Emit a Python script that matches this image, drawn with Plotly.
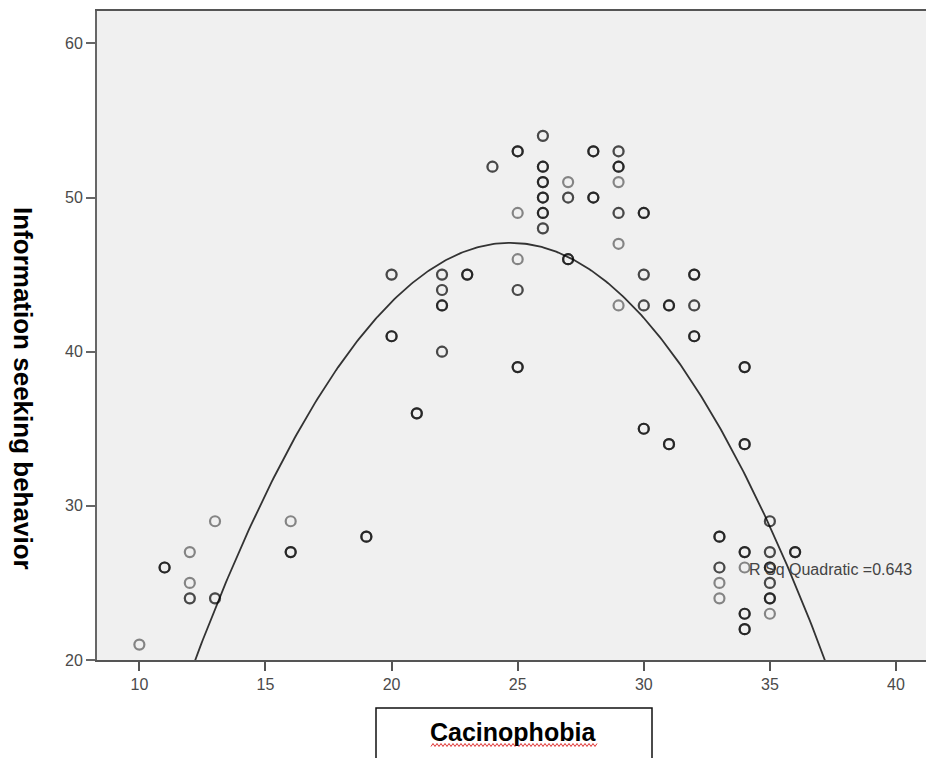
import numpy as np
import plotly.graph_objects as go

# ---- data (unique points and number of overlapping cases) ----
cacinophobia = [10, 11, 12, 12, 12, 13, 13, 16, 16, 19,
                20, 20, 21, 22, 22, 22, 22, 23, 24,
                25, 25, 25, 25, 25, 26, 26, 26, 26, 26, 26,
                27, 27, 27, 28, 28, 29, 29, 29, 29, 29, 29,
                30, 30, 30, 30, 31, 31, 32, 32, 32,
                33, 33, 33, 33, 34, 34, 34, 34, 34, 34,
                35, 35, 35, 35, 35, 35, 36]
info_seeking = [21, 26, 27, 25, 24, 29, 24, 29, 27, 28,
                45, 41, 36, 45, 44, 43, 40, 45, 52,
                53, 49, 46, 44, 39, 54, 52, 51, 50, 49, 48,
                51, 50, 46, 53, 50, 53, 52, 51, 49, 47, 43,
                49, 45, 43, 35, 43, 34, 45, 43, 41,
                28, 26, 25, 24, 39, 34, 27, 26, 23, 22,
                29, 27, 26, 25, 24, 23, 27]
n_cases = [1, 3, 1, 1, 2, 1, 2, 1, 3, 3,
           2, 3, 3, 2, 2, 3, 2, 3, 2,
           3, 1, 1, 2, 3, 2, 3, 3, 3, 3, 2,
           1, 2, 3, 3, 3, 2, 3, 1, 2, 1, 1,
           3, 2, 2, 3, 3, 3, 3, 2, 3,
           3, 2, 1, 1, 3, 3, 3, 1, 3, 3,
           2, 2, 3, 2, 3, 1, 3]

# quadratic fit: y = b0 + b1*x + b2*x^2
quad_coef = [-58.79, 8.571, -0.1735]
r_sq_label = "R Sq Quadratic =0.643"

x_ticks = [10, 15, 20, 25, 30, 35, 40]
y_ticks = [20, 30, 40, 50, 60]
x_range = [8.32, 41.19]
y_range = [20, 62.1]

xs = np.repeat(cacinophobia, n_cases)
ys = np.repeat(info_seeking, n_cases)

curve_x = np.linspace(x_range[0], x_range[1], 400)
curve_y = quad_coef[0] + quad_coef[1] * curve_x + quad_coef[2] * curve_x ** 2

fig = go.Figure()
fig.add_trace(go.Scatter(
    x=curve_x, y=curve_y, mode="lines",
    line=dict(color="#333333", width=1.8),
    hoverinfo="skip", showlegend=False))
fig.add_trace(go.Scatter(
    x=xs, y=ys, mode="markers",
    marker=dict(symbol="circle-open", size=10,
                color="rgba(0,0,0,0.45)", line=dict(width=2.2)),
    showlegend=False))

axis_font = dict(family="Liberation Sans, Arial, sans-serif", size=16, color="#4a4a4a")

fig.update_xaxes(range=x_range, tickvals=x_ticks, showgrid=False, zeroline=False,
                 showline=True, linecolor="#555555", linewidth=2, mirror=True,
                 ticks="outside", ticklen=9, tickwidth=2, tickcolor="#555555",
                 tickfont=axis_font)
fig.update_yaxes(range=y_range, tickvals=y_ticks, showgrid=False, zeroline=False,
                 showline=True, linecolor="#666666", linewidth=2,
                 ticks="outside", ticklen=9, tickwidth=2, tickcolor="#666666",
                 tickfont=axis_font)

L, R, T, B = 97, 0, 11, 98
W, H = 926, 758
pw, ph = W - L - R, H - T - B

def px2paper(px, py):
    return (px - L) / pw, (H - B - py) / ph

annotations = []
annotations.append(dict(x=34.1, y=25.9, xref="x", yref="y", text=r_sq_label,
                        showarrow=False, xanchor="left", yanchor="middle",
                        font=dict(family="Liberation Sans, Arial, sans-serif", size=16, color="#444444")))
ax, ay = px2paper(23, 388)
annotations.append(dict(x=ax, y=ay, xref="paper", yref="paper",
                        text="<b>Information seeking behavior</b>", textangle=90,
                        showarrow=False, xanchor="center", yanchor="middle",
                        font=dict(family="Liberation Sans, Arial, sans-serif", size=26, color="#000000")))
tx, ty = px2paper(513, 732)
annotations.append(dict(x=tx, y=ty, xref="paper", yref="paper",
                        text="<b>Cacinophobia</b>",
                        showarrow=False, xanchor="center", yanchor="middle",
                        font=dict(family="Liberation Sans, Arial, sans-serif", size=25, color="#000000")))

shapes = []
bx0, by0 = px2paper(376, 708)
bx1, by1 = px2paper(652, 790)
shapes.append(dict(type="rect", xref="paper", yref="paper", x0=bx0, x1=bx1, y0=by1, y1=by0,
                   line=dict(color="#111111", width=1.5)))
# red spell-check wavy underline
pts = []
px = 431
k = 0
while px <= 597:
    yy = 745 + (1.5 if k % 2 == 0 else -1.5)
    qx, qy = px2paper(px, yy)
    pts.append(f"{qx:.5f},{qy:.5f}")
    px += 2
    k += 1
shapes.append(dict(type="path", xref="paper", yref="paper",
                   path="M" + " L".join(pts), line=dict(color="#e03030", width=1)))

fig.update_layout(width=W, height=H, margin=dict(l=L, r=R, t=T, b=B),
                  paper_bgcolor="white", plot_bgcolor="#f0f0f0",
                  annotations=annotations, shapes=shapes)

fig.write_html("out.html", config={"displayModeBar": False},
               post_script="document.body.style.margin='0';document.body.style.overflow='hidden';")
